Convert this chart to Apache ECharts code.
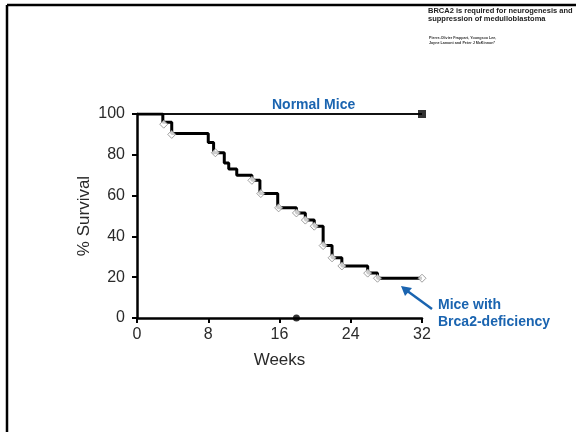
<!DOCTYPE html>
<html><head><meta charset="utf-8">
<script src="https://cdn.jsdelivr.net/npm/echarts@6/dist/echarts.min.js"></script>
<style>html,body{margin:0;padding:0;background:#fff}#c{width:576px;height:432px}</style>
</head><body><div id="c"></div>
<script>
// Kaplan-Meier step curve for Brca2-deficient mice: [week, % survival]
const brcaWeeks =    [0, 2.9, 3.9, 8.0, 8.6, 9.8, 10.3, 11.2, 12.9, 13.8, 15.8, 17.9, 18.9, 19.9, 20.9, 21.9, 23.0, 25.9, 27.0, 32];
const brcaSurvival = [100, 96, 90.5, 86, 81, 76, 73, 70, 67.5, 61, 54, 51.5, 48, 45, 35.5, 29.5, 25.5, 22, 19.5, 19.5];
// censored markers (open symbols)
const censorWeeks =    [3.0, 3.9, 8.8, 12.9, 13.9, 15.9, 17.9, 18.9, 19.9, 20.9, 21.9, 23.0, 25.9, 27.0, 32];
const censorSurvival = [95, 90, 81, 67.5, 61, 54, 51.5, 48, 45, 35.5, 29.5, 25.5, 22, 19.5, 19.5];
// normal mice
const normalWeeks = [0, 32];
const normalSurvival = [100, 100];
// point on x-axis
const axisDotWeek = [17.9];
const axisDotVal = [0];
const xTicks = [0, 8, 16, 24, 32];
const yTicks = [0, 20, 40, 60, 80, 100];

const zip = (a, b) => a.map((v, i) => [v, b[i]]);
const chart = echarts.init(document.getElementById('c'), null, {renderer: 'canvas'});
const blue = '#1a64b0';
const font = 'Liberation Sans, Arial, sans-serif';
chart.setOption({
  animation: false,
  backgroundColor: '#fff',
  grid: {left: 137, top: 114, width: 285, height: 204},
  xAxis: {
    type: 'value', min: xTicks[0], max: xTicks[xTicks.length - 1], interval: 8,
    axisLine: {lineStyle: {color: '#000', width: 2.5}},
    axisTick: {length: 5, lineStyle: {color: '#000', width: 2}},
    axisLabel: {color: '#2a2a2a', fontSize: 16, fontFamily: font, margin: 9},
    splitLine: {show: false},
    name: 'Weeks', nameLocation: 'middle', nameGap: 34,
    nameTextStyle: {color: '#2a2a2a', fontSize: 17, fontFamily: font}
  },
  yAxis: {
    type: 'value', min: yTicks[0], max: yTicks[yTicks.length - 1], interval: 20,
    axisLine: {lineStyle: {color: '#000', width: 2.5}},
    axisTick: {length: 5, lineStyle: {color: '#000', width: 2}},
    axisLabel: {color: '#2a2a2a', fontSize: 16, fontFamily: font, margin: 12},
    splitLine: {show: false},
    name: '% Survival', nameLocation: 'middle', nameGap: 44,
    nameTextStyle: {color: '#2a2a2a', fontSize: 17, fontFamily: font}
  },
  series: [
    {type: 'line', data: zip(normalWeeks, normalSurvival), symbol: 'none',
     lineStyle: {color: '#111', width: 2}, z: 3},
    {type: 'scatter', data: [zip(normalWeeks, normalSurvival)[1]], symbol: 'rect', symbolSize: 8,
     itemStyle: {color: '#000'}, z: 5},
    {type: 'line', step: 'end', data: zip(brcaWeeks, brcaSurvival), symbol: 'none',
     lineStyle: {color: '#000', width: 3}, z: 4},
    {type: 'scatter', data: zip(censorWeeks, censorSurvival), symbol: 'diamond', symbolSize: 8,
     itemStyle: {color: '#fff', borderColor: '#888', borderWidth: 1}, z: 6},
    {type: 'scatter', data: zip(axisDotWeek, axisDotVal), symbol: 'circle', symbolSize: 7,
     itemStyle: {color: '#000'}, z: 6}
  ],
  graphic: [
    {type: 'line', shape: {x1: 7, y1: 5, x2: 576, y2: 5}, style: {stroke: '#000', lineWidth: 2.5}},
    {type: 'line', shape: {x1: 7, y1: 5, x2: 7, y2: 432}, style: {stroke: '#000', lineWidth: 2.5}},
    {type: 'text', left: 428, top: 7, style: {text: 'BRCA2 is required for neurogenesis and\nsuppression of medulloblastoma',
      fill: '#222', font: 'bold 7.5px ' + font, lineHeight: 8}},
    {type: 'text', left: 429, top: 36, style: {text: 'Pierre-Olivier Frappart, Youngsoo Lee,\nJayne Lamont and Peter J McKinnon*',
      fill: '#333', font: 'bold 3.7px ' + font, lineHeight: 4.5}},
    {type: 'text', left: 272, top: 98, style: {text: 'Normal Mice', fill: blue, font: 'bold 14px ' + font}},
    {type: 'text', left: 438, top: 297, style: {text: 'Mice with\nBrca2-deficiency', fill: blue, font: 'bold 14px ' + font, lineHeight: 17}},
    {type: 'line', shape: {x1: 432, y1: 309, x2: 406, y2: 290}, style: {stroke: blue, lineWidth: 2.5}},
    {type: 'polygon', shape: {points: [[401, 286], [412, 288], [405, 296]]}, style: {fill: blue}}
  ]
});
</script></body></html>
